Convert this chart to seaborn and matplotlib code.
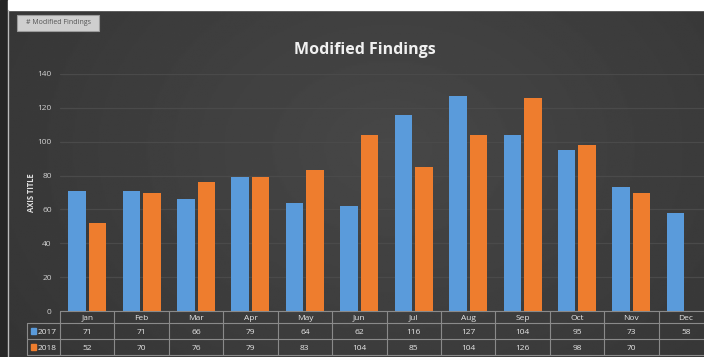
import numpy as np
import pandas as pd
import matplotlib
matplotlib.use("Agg")
import matplotlib.pyplot as plt
import seaborn as sns
from matplotlib.patches import Rectangle
from matplotlib.lines import Line2D

months = ["Jan", "Feb", "Mar", "Apr", "May", "Jun", "Jul", "Aug", "Sep", "Oct", "Nov", "Dec"]
vals_2017 = [71, 71, 66, 79, 64, 62, 116, 127, 104, 95, 73, 58]
vals_2018 = [52, 70, 76, 79, 83, 104, 85, 104, 126, 98, 70, np.nan]
series = ["2017", "2018"]
colors = ["#5A9BDB", "#EE7D2E"]
yticks = [0, 20, 40, 60, 80, 100, 120, 140]

df = pd.DataFrame({
    "Month": months * 2,
    "Value": vals_2017 + vals_2018,
    "Year": [series[0]] * 12 + [series[1]] * 12,
})

sns.set_theme(style="dark")
plt.rcParams['font.family'] = ['Open Sans', 'DejaVu Sans']

W, H = 704, 357
fig = plt.figure(figsize=(W / 100, H / 100), dpi=100)

# background with gradient
bg = fig.add_axes([0, 0, 1, 1], zorder=-10)
xs = np.linspace(-1, 1, 400)
ys = np.linspace(-1, 1, 200)
X, Y = np.meshgrid(xs, ys)
R = np.sqrt(((X - 0.1) * 0.9) ** 2 + ((Y + 0.2) * 0.6) ** 2)
grad = 0.28 - 0.06 * R
bg.imshow(grad, cmap="gray", vmin=0, vmax=1, extent=[8, W, H, 10], aspect="auto")
bg.set_xlim(0, W)
bg.set_ylim(H, 0)
bg.add_patch(Rectangle((0, 0), 8, H, color="#262626", zorder=2))
bg.add_patch(Rectangle((8, 0), W - 8, 10, color="white", zorder=2))
bg.add_line(Line2D([7.5, 7.5], [10, H], color="#bbbbbb", lw=1, zorder=3))
# pivot field button
bg.add_patch(Rectangle((17, 15), 82, 16, facecolor="#cfcfcf", edgecolor="#9a9a9a", lw=0.8, zorder=3))
bg.text(58, 23, "# Modified Findings", fontsize=5, color="#555555", ha="center", va="center", zorder=4)
# title and axis title
bg.text(365, 50, "Modified Findings", fontsize=11.5, fontweight="bold", color="#f0f0f0",
        ha="center", va="center", zorder=4)
bg.text(31, 193, "AXIS TITLE", fontsize=5.5, fontweight="bold", color="#e0e0e0",
        ha="center", va="center", rotation=90, zorder=4)
bg.axis("off")

# main plot axes
left, right = 60, 713
top, zero = 74, 311
ax = fig.add_axes([left / W, 1 - zero / H, (right - left) / W, (zero - top) / H])
ax.set_facecolor("none")
sns.barplot(data=df, x="Month", y="Value", hue="Year", palette=colors,
            width=0.754, gap=0.15, ax=ax, legend=False, saturation=1, zorder=3,
            linewidth=0, edgecolor="none")
ax.set_xlim(-0.5, 11.5)
ax.set_ylim(0, 140)
ax.set_yticks(yticks)
ax.set_yticklabels([str(t) for t in yticks], color="#d0d0d0", fontsize=6)
ax.tick_params(axis="y", length=0, pad=6)
ax.set_xticks([])
ax.set_xlabel("")
ax.set_ylabel("")
ax.grid(axis="y", color="#4a4a4a", lw=0.9, zorder=0)
ax.grid(axis="x", visible=False)
for s in ax.spines.values():
    s.set_visible(False)

# data table (x in data coords, y in axes fraction)
trans = ax.get_xaxis_transform()
hpx = zero - top
def yf(py):
    return (zero - py) / hpx

line_c = "#8a8a8a"
row_y = [311, 323, 339, 355]
txt_c = "#e6e6e6"
x0 = -0.5 - (60 - 27) / 54.4
ax.plot([-0.5, 11.5], [yf(311)] * 2, transform=trans, color=line_c, lw=0.8, clip_on=False)
for py in row_y[1:]:
    ax.plot([x0, 11.5], [yf(py)] * 2, transform=trans, color=line_c, lw=0.8, clip_on=False)
for i in range(13):
    ax.plot([i - 0.5, i - 0.5], [yf(311), yf(355)], transform=trans, color=line_c, lw=0.8, clip_on=False)
ax.plot([x0, x0], [yf(323), yf(355)], transform=trans, color=line_c, lw=0.8, clip_on=False)

for i, m in enumerate(months):
    ax.text(i, yf(318), m, transform=trans, ha="center", va="center", fontsize=6, color=txt_c, clip_on=False)
    for vals, py in ((vals_2017, 332), (vals_2018, 348)):
        v = vals[i]
        if not np.isnan(v):
            ax.text(i, yf(py), f"{int(v)}", transform=trans, ha="center", va="center",
                    fontsize=6, color=txt_c, clip_on=False)

for name, col, py in zip(series, colors, (331, 347)):
    kx = -0.5 - (60 - 31) / 54.4
    ax.add_patch(Rectangle((kx, yf(py + 3)), 5 / 54.4, 6 / hpx, transform=trans,
                           color=col, clip_on=False))
    ax.text(-0.5 - (60 - 38) / 54.4, yf(py + 1), name, transform=trans, ha="left", va="center",
            fontsize=6, color=txt_c, clip_on=False)

fig.savefig("out.png", dpi=100)
